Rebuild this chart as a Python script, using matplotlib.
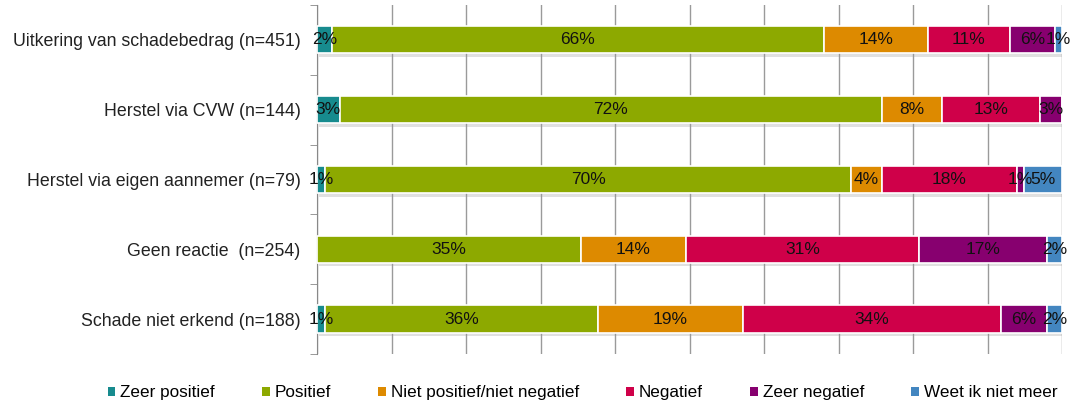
import numpy as np
import matplotlib
matplotlib.use("Agg")
import matplotlib.pyplot as plt
import matplotlib.patheffects as pe

plt.rcParams['font.family'] = ['Liberation Sans', 'DejaVu Sans']

categories = ["Uitkering van schadebedrag (n=451)",
              "Herstel via CVW (n=144)",
              "Herstel via eigen aannemer (n=79)",
              "Geen reactie  (n=254)",
              "Schade niet erkend (n=188)"]
series = ["Zeer positief", "Positief", "Niet positief/niet negatief",
          "Negatief", "Zeer negatief", "Weet ik niet meer"]
colors = ["#178B8E", "#8DA900", "#DD8A00", "#CF0049", "#87006F", "#4386C0"]

zeer_positief = [2, 3, 1, 0, 1]
positief = [66, 72, 70, 35, 36]
neutraal = [14, 8, 4, 14, 19]
negatief = [11, 13, 18, 31, 34]
zeer_negatief = [6, 3, 1, 17, 6]
weet_niet = [1, 0, 5, 2, 2]

data = np.array([zeer_positief, positief, neutraal, negatief, zeer_negatief, weet_niet], dtype=float)
totals = data.sum(axis=0)
shares = data / totals * 100  # bars are stretched to 100%

fig = plt.figure(figsize=(10.75, 4.05), dpi=100)
ax = fig.add_axes([0.295, 0.126, 0.693, 0.862])

y = np.arange(len(categories))
left = np.zeros(len(categories))
shadow = [pe.SimplePatchShadow(offset=(1.5, -2.5), shadow_rgbFace="#999999", alpha=0.3), pe.Normal()]
for i, name in enumerate(series):
    bars = ax.barh(y, shares[i], left=left, height=0.39, color=colors[i],
                   edgecolor="white", linewidth=1.2, label=name, zorder=3)
    for b in bars:
        b.set_path_effects(shadow)
    for j in range(len(categories)):
        if data[i, j] > 0:
            ax.text(left[j] + shares[i, j] / 2, y[j], "%d%%" % data[i, j],
                    ha="center", va="center", fontsize=12.5, color="#111111", zorder=5)
    left += shares[i]

ax.set_xlim(0, 100)
ax.set_ylim(len(categories) - 0.5, -0.5)
ax.set_xticks(np.arange(0, 101, 10))
ax.tick_params(axis="x", length=0, labelbottom=False)
ax.grid(axis="x", color="#9a9a9a", linewidth=1, zorder=0)

ax.set_yticks(y)
ax.set_yticklabels(categories, fontsize=12.8, color="#222222")
ax.tick_params(axis="y", which="major", length=0, pad=12)
ax.set_yticks(np.arange(-0.5, len(categories), 1), minor=True)
ax.tick_params(axis="y", which="minor", length=5, color="#888888", direction="out")

for s in ["top", "right", "bottom"]:
    ax.spines[s].set_visible(False)
ax.spines["left"].set_color("#888888")

leg = fig.legend(loc="center", bbox_to_anchor=(0.542, 0.03), ncol=6, frameon=False,
                 fontsize=12.3, handlelength=0.45, handleheight=0.45,
                 handletextpad=0.3, columnspacing=2.75)
for h in leg.legend_handles:
    h.set_path_effects([])
    h.set_edgecolor("none")

fig.savefig("out.png", dpi=100)
